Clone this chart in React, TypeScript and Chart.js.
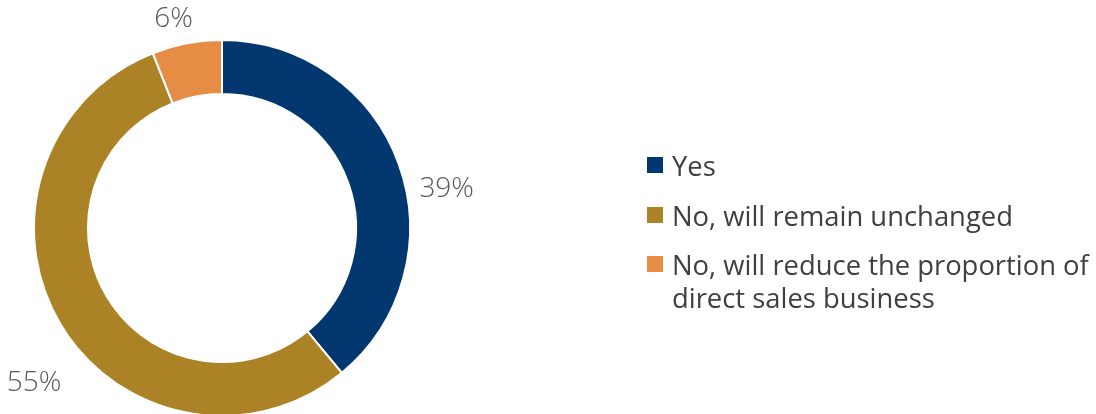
import React, { useEffect, useRef } from "react";
import { Chart, registerables } from "chart.js";

Chart.register(...registerables);

const categories = [
  "Yes",
  "No, will remain unchanged",
  "No, will reduce the proportion of direct sales business",
];
const shares = [39, 55, 6];
const sliceColors = ["#02376F", "#AB8326", "#E58D44"];
// label offsets relative to outer radius (dx, dy)
const labelOffsets = [
  [1.195, -0.207],
  [-1.0, 0.824],
  [-0.258, -1.112],
];

const pctLabelPlugin = {
  id: "pctLabels",
  afterDatasetsDraw(chart: any) {
    const ctx = chart.ctx;
    const meta = chart.getDatasetMeta(0);
    ctx.save();
    ctx.font = "300 28px 'Open Sans'";
    ctx.fillStyle = "#595959";
    ctx.textAlign = "center";
    ctx.textBaseline = "middle";
    meta.data.forEach((arc: any, i: number) => {
      const r = arc.outerRadius;
      const [fx, fy] = labelOffsets[i];
      const v = chart.data.datasets[0].data[i];
      ctx.fillText(v + "%", arc.x + fx * r, arc.y + fy * r);
    });
    ctx.restore();
  },
};

export default function App() {
  const ref = useRef<HTMLCanvasElement>(null);
  useEffect(() => {
    document.body.style.margin = "0";
    const chart = new Chart(ref.current!, {
      type: "doughnut",
      data: {
        labels: categories,
        datasets: [
          {
            data: shares,
            backgroundColor: sliceColors,
            borderColor: "#ffffff",
            borderWidth: 2,
          },
        ],
      },
      options: {
        animation: false,
        responsive: false,
        cutout: "71.3%",
        layout: { padding: { left: 33, right: 685, top: 39, bottom: 3 } },
        plugins: { legend: { display: false }, tooltip: { enabled: false } },
      },
      plugins: [pctLabelPlugin],
    });
    return () => chart.destroy();
  }, []);

  return (
    <div
      style={{
        position: "fixed",
        left: 0,
        top: 0,
        width: 1096,
        height: 414,
        overflow: "hidden",
        background: "#fff",
      }}
    >
      <canvas ref={ref} width={1096} height={420} style={{ display: "block" }} />
      <div
        style={{
          position: "absolute",
          left: 647,
          top: 149,
          width: 449,
          fontFamily: "'Open Sans', sans-serif",
          fontSize: 27.4,
          lineHeight: "33px",
          color: "#404040",
        }}
      >
        {categories.map((c, i) => (
          <div key={c} style={{ position: "relative", paddingLeft: 25, marginBottom: 16.5 }}>
            <span
              style={{
                position: "absolute",
                left: 0,
                top: 8,
                width: 16,
                height: 16,
                background: sliceColors[i],
              }}
            />
            {c}
          </div>
        ))}
      </div>
    </div>
  );
}
